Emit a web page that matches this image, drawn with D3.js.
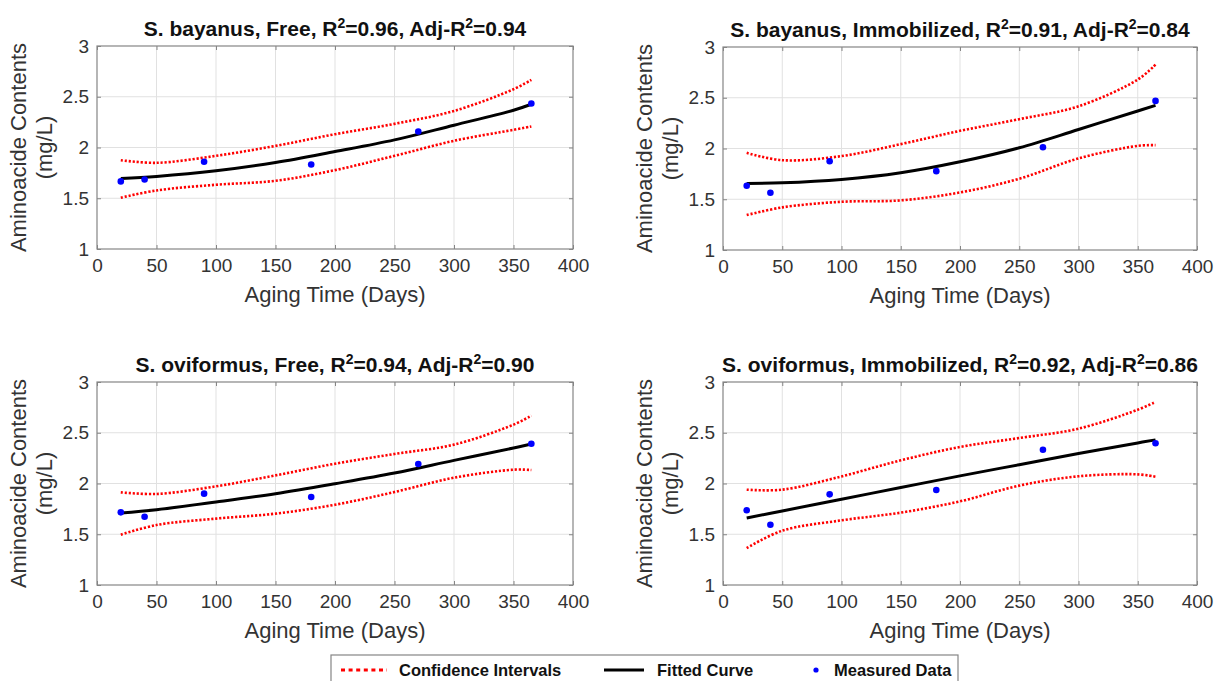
<!DOCTYPE html>
<html>
<head>
<meta charset="utf-8">
<script src="https://cdn.jsdelivr.net/npm/d3@7"></script>
<style>
	body { margin: 0; background: #fff; }
	svg { display: block; font-family: "Liberation Sans", Arial, sans-serif; }
	.tick text { fill: #333; }
</style>
</head>
<body>
<svg id="chart" width="1216" height="681"></svg>
<script>
// Panel titles
const strains = ["S. bayanus", "S. bayanus", "S. oviformus", "S. oviformus"];
const states  = ["Free", "Immobilized", "Free", "Immobilized"];
const r2      = ["0.96", "0.91", "0.94", "0.92"];
const adjR2   = ["0.94", "0.84", "0.90", "0.86"];

// Measured points (days)
const days = [20, 40, 90, 180, 270, 365];
const measured = [
	[1.666, 1.685, 1.859, 1.833, 2.157, 2.433],
	[1.633, 1.564, 1.875, 1.777, 2.013, 2.469],
	[1.716, 1.673, 1.900, 1.867, 2.192, 2.392],
	[1.736, 1.594, 1.893, 1.936, 2.333, 2.396]
];

// Fitted curve and confidence bounds, read at these days
const fitDays = [20, 50, 100, 150, 200, 250, 300, 350, 365];
const fitted = [
	[1.695, 1.715, 1.770, 1.852, 1.960, 2.075, 2.220, 2.367, 2.426],
	[1.656, 1.662, 1.695, 1.761, 1.869, 2.007, 2.187, 2.370, 2.425],
	[1.709, 1.742, 1.818, 1.900, 1.998, 2.103, 2.228, 2.350, 2.389],
	[1.660, 1.730, 1.845, 1.960, 2.075, 2.185, 2.295, 2.400, 2.430]
];
const upper = [
	[1.875, 1.849, 1.918, 2.016, 2.131, 2.233, 2.360, 2.574, 2.666],
	[1.957, 1.885, 1.925, 2.043, 2.174, 2.289, 2.416, 2.679, 2.826],
	[1.913, 1.897, 1.972, 2.080, 2.195, 2.291, 2.383, 2.580, 2.668],
	[1.939, 1.939, 2.070, 2.228, 2.360, 2.448, 2.540, 2.727, 2.803]
];
const lower = [
	[1.505, 1.577, 1.633, 1.672, 1.777, 1.918, 2.066, 2.174, 2.207],
	[1.344, 1.420, 1.475, 1.489, 1.567, 1.702, 1.902, 2.026, 2.033],
	[1.496, 1.591, 1.654, 1.703, 1.791, 1.916, 2.057, 2.136, 2.133],
	[1.364, 1.535, 1.637, 1.713, 1.824, 1.979, 2.071, 2.090, 2.067]
];

// Axes ticks
const xTicks = [0, 50, 100, 150, 200, 250, 300, 350, 400];
const yTicks = [1, 1.5, 2, 2.5, 3];
const yTickLabels = ["1", "1.5", "2", "2.5", "3"];
const legendLabels = ["Confidence Intervals", "Fitted Curve", "Measured Data"];

// Panel boxes in the page
var panels = [
	{ left: 97,  top: 46,  width: 476, height: 203 },
	{ left: 723, top: 47,  width: 474, height: 203 },
	{ left: 97,  top: 382, width: 476, height: 203 },
	{ left: 723, top: 382, width: 474, height: 203 }
];

var svg = d3.select("#chart");

function drawPanel (i) {
	var p = panels[i];
	var g = svg.append("g").attr("transform", "translate(" + p.left + "," + p.top + ")");

	var x = d3.scaleLinear().domain([0, 400]).range([0, p.width]);
	var y = d3.scaleLinear().domain([1, 3]).range([p.height, 0]);

	// grid
	g.append("g").selectAll("line").data(xTicks.slice(1, -1)).join("line")
		.attr("x1", d => x(d)).attr("x2", d => x(d))
		.attr("y1", 0).attr("y2", p.height)
		.attr("stroke", "#e1e1e1");
	g.append("g").selectAll("line").data(yTicks.slice(1, -1)).join("line")
		.attr("y1", d => y(d)).attr("y2", d => y(d))
		.attr("x1", 0).attr("x2", p.width)
		.attr("stroke", "#e1e1e1");

	// axes with inward ticks
	var xb = g.append("g").attr("transform", "translate(0," + p.height + ")")
		.call(d3.axisBottom(x).tickValues(xTicks).tickSize(-4).tickPadding(10));
	var yl = g.append("g")
		.call(d3.axisLeft(y).tickValues(yTicks).tickSize(-4).tickPadding(8)
			.tickFormat((d, k) => yTickLabels[k]));
	var xt = g.append("g")
		.call(d3.axisTop(x).tickValues(xTicks).tickSize(-4).tickFormat(""));
	var yr = g.append("g").attr("transform", "translate(" + p.width + ",0)")
		.call(d3.axisRight(y).tickValues(yTicks).tickSize(-4).tickFormat(""));
	[xb, yl, xt, yr].forEach(function (a) {
		a.select(".domain").remove();
		a.selectAll(".tick line").attr("stroke", "#858585");
		a.selectAll(".tick text").style("font-size", "19px").attr("font-family", null);
	});

	// box
	g.append("rect")
		.attr("width", p.width).attr("height", p.height)
		.attr("fill", "none").attr("stroke", "#858585").attr("stroke-width", 1.2);

	// curves
	var line = d3.line()
		.x((d, k) => x(fitDays[k]))
		.y(d => y(d))
		.curve(d3.curveCatmullRom);

	[upper[i], lower[i]].forEach(function (band) {
		g.append("path").attr("d", line(band))
			.attr("fill", "none").attr("stroke", "#ff0000")
			.attr("stroke-width", 2.6).attr("stroke-dasharray", "2.2,1.8");
	});
	g.append("path").attr("d", line(fitted[i]))
		.attr("fill", "none").attr("stroke", "#000").attr("stroke-width", 3);

	g.append("g").selectAll("circle").data(measured[i]).join("circle")
		.attr("cx", (d, k) => x(days[k]))
		.attr("cy", d => y(d))
		.attr("r", 3.3)
		.attr("fill", "#0000ff");

	// title with superscripts
	var t = g.append("text")
		.attr("x", p.width / 2).attr("y", -10)
		.attr("text-anchor", "middle")
		.style("font-size", "21px").style("font-weight", "bold").attr("fill", "#111");
	t.append("tspan").text(strains[i] + ", " + states[i] + ", R");
	t.append("tspan").attr("dy", -8).style("font-size", "14px").text("2");
	t.append("tspan").attr("dy", 8).text("=" + r2[i] + ", Adj-R");
	t.append("tspan").attr("dy", -8).style("font-size", "14px").text("2");
	t.append("tspan").attr("dy", 8).text("=" + adjR2[i]);

	// axis labels
	g.append("text")
		.attr("x", p.width / 2).attr("y", p.height + 53)
		.attr("text-anchor", "middle")
		.style("font-size", "22px").attr("fill", "#333")
		.text("Aging Time (Days)");

	var yLab = g.append("text")
		.attr("transform", "translate(-71," + (p.height / 2) + ") rotate(-90)")
		.attr("text-anchor", "middle")
		.style("font-size", "22px").attr("fill", "#333");
	yLab.append("tspan").attr("x", 0).attr("y", 0).text("Aminoacide Contents");
	yLab.append("tspan").attr("x", 0).attr("y", 26).text("(mg/L)");
}

for (var i = 0; i < panels.length; i++) {
	drawPanel(i);
}

// Legend
var lg = svg.append("g");
lg.append("rect")
	.attr("x", 331).attr("y", 655).attr("width", 627).attr("height", 40)
	.attr("fill", "#fff").attr("stroke", "#858585").attr("stroke-width", 1.2);

lg.append("line")
	.attr("x1", 341).attr("x2", 387).attr("y1", 670).attr("y2", 670)
	.attr("stroke", "#ff0000").attr("stroke-width", 3).attr("stroke-dasharray", "4,3.6");
lg.append("line")
	.attr("x1", 604).attr("x2", 644).attr("y1", 670).attr("y2", 670)
	.attr("stroke", "#000").attr("stroke-width", 3);
lg.append("circle")
	.attr("cx", 816).attr("cy", 670).attr("r", 2.6).attr("fill", "#0000ff");

var legendX = [399, 657, 834];
lg.selectAll("text.leg").data(legendLabels).join("text")
	.attr("class", "leg")
	.attr("x", (d, k) => legendX[k]).attr("y", 676)
	.style("font-size", "16.5px").style("font-weight", "bold").attr("fill", "#111")
	.text(d => d);
</script>
</body>
</html>
